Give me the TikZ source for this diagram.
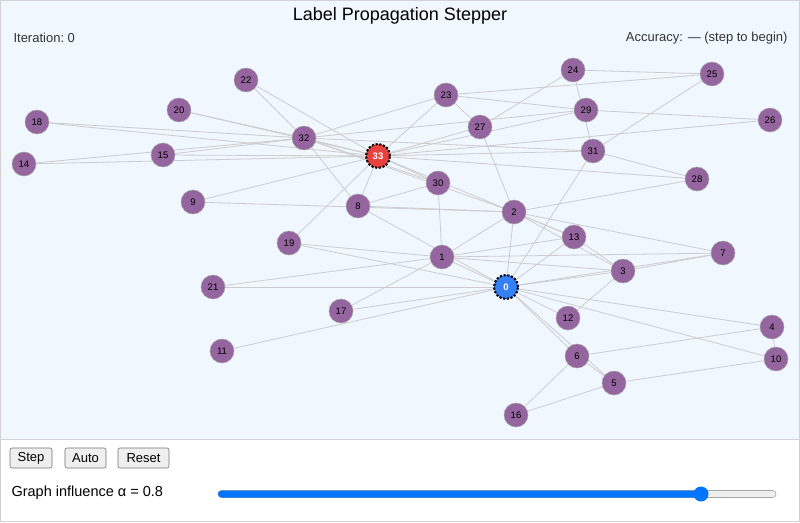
\documentclass[tikz,border=0pt]{standalone}
\usepackage{fontspec}
\setmainfont{Liberation Sans}
\definecolor{bgblue}{RGB}{240,247,254}
\definecolor{purp}{RGB}{148,101,158}
\definecolor{redn}{RGB}{232,66,62}
\definecolor{bluen}{RGB}{52,128,246}
\definecolor{edgec}{RGB}{204,204,204}
\definecolor{framec}{RGB}{210,210,210}
\definecolor{btnbg}{RGB}{239,239,239}
\definecolor{slblue}{RGB}{0,117,255}
\begin{document}
\begin{tikzpicture}[x=1pt,y=-1pt,
  vtx/.style={circle,minimum size=24pt,inner sep=0pt,fill=purp,draw=gray!70,line width=0.5pt,font=\fontsize{9.5}{10}\selectfont},
  seed/.style={vtx,draw=black,dash pattern=on 2.2pt off 1.6pt,line width=2pt,text=white},
  edg/.style={draw=edgec,line width=0.8pt},
  btn/.style={draw=gray!90!black,fill=btnbg,rounded corners=2pt,inner sep=0pt,minimum height=20pt,line width=0.6pt,font=\fontsize{13}{14}\selectfont}]
\useasboundingbox (0,0) rectangle (800,522);
\fill[white] (0,0) rectangle (800,522);
\draw[framec,fill=bgblue,line width=1pt] (0.5,0.5) rectangle (799.5,439);
\draw[framec,line width=1pt] (0.5,439) -- (0.5,521.5) -- (799.5,521.5) -- (799.5,439);
\node[font=\fontsize{18}{20}\selectfont] (title) at (400,16) {Label Propagation Stepper};
\node[anchor=west,font=\fontsize{13}{14}\selectfont,text=black!80] (iter) at (10,38) {Iteration:~0};
\node[anchor=east,font=\fontsize{13}{14}\selectfont,text=black!80] (acc) at (791,38) {Accuracy: — (step to begin)};
% node positions
\foreach \n/\x/\y in {1/442/257,2/514/212,3/623/271,4/772/327,5/614/383,6/577/356,7/723/253,8/358/206,9/193/202,10/776/359,11/222/351,12/568/318,13/574/237,14/24/164,15/163/155,16/516/415,17/341/311,18/37/122,19/289/243,20/179/110,21/213/287,22/246/80,23/446/95,24/573/70,25/712/74,26/770/120,27/480/127,28/697/179,29/586/110,30/438/183,31/593/151,32/304/138}
  {\coordinate (c\n) at (\x,\y);}
\coordinate (c0) at (506,287);
\coordinate (c33) at (378,156);
% edges
\foreach \a/\b in {0/1,0/2,0/3,0/4,0/5,0/6,0/7,0/8,0/10,0/11,0/12,0/13,0/17,0/19,0/21,0/31,
1/2,1/3,1/7,1/13,1/17,1/19,1/21,1/30,
2/3,2/7,2/8,2/9,2/13,2/27,2/28,2/32,
3/7,3/12,3/13,4/6,4/10,5/6,5/10,5/16,6/16,
8/30,8/32,8/33,9/33,13/33,14/32,14/33,15/32,15/33,18/32,18/33,19/33,20/32,20/33,22/32,22/33,
23/25,23/27,23/29,23/32,23/33,24/25,24/27,24/31,25/31,26/29,26/33,27/33,28/31,28/33,29/32,29/33,30/32,30/33,31/32,31/33,32/33}
  {\draw[edg] (c\a) -- (c\b);}
\foreach \n in {1,...,32}
  {\node[vtx] (n\n) at (c\n) {\n};}
\node[seed,fill=bluen] (n0) at (c0) {\textbf{0}};
\node[seed,fill=redn] (n33) at (c33) {\textbf{33}};
% controls
\node[btn,minimum width=42pt] (bstep) at (31,458) {Step};
\node[btn,minimum width=41pt] (bauto) at (85.5,458) {Auto};
\node[btn,minimum width=51pt] (breset) at (143.5,458) {Reset};
\node[anchor=west,font=\fontsize{14.5}{16}\selectfont] (lab) at (8,493) {Graph influence α = 0.8};
\draw[draw=gray!70,fill=btnbg,rounded corners=3.5pt,line width=0.6pt] (218,490.5) rectangle (776,497.5);
\fill[slblue,rounded corners=3.5pt] (218,490.5) rectangle (703,497.5);
\node[circle,fill=slblue,minimum size=15pt,inner sep=0pt] (knob) at (701,494) {};
\end{tikzpicture}
\end{document}
